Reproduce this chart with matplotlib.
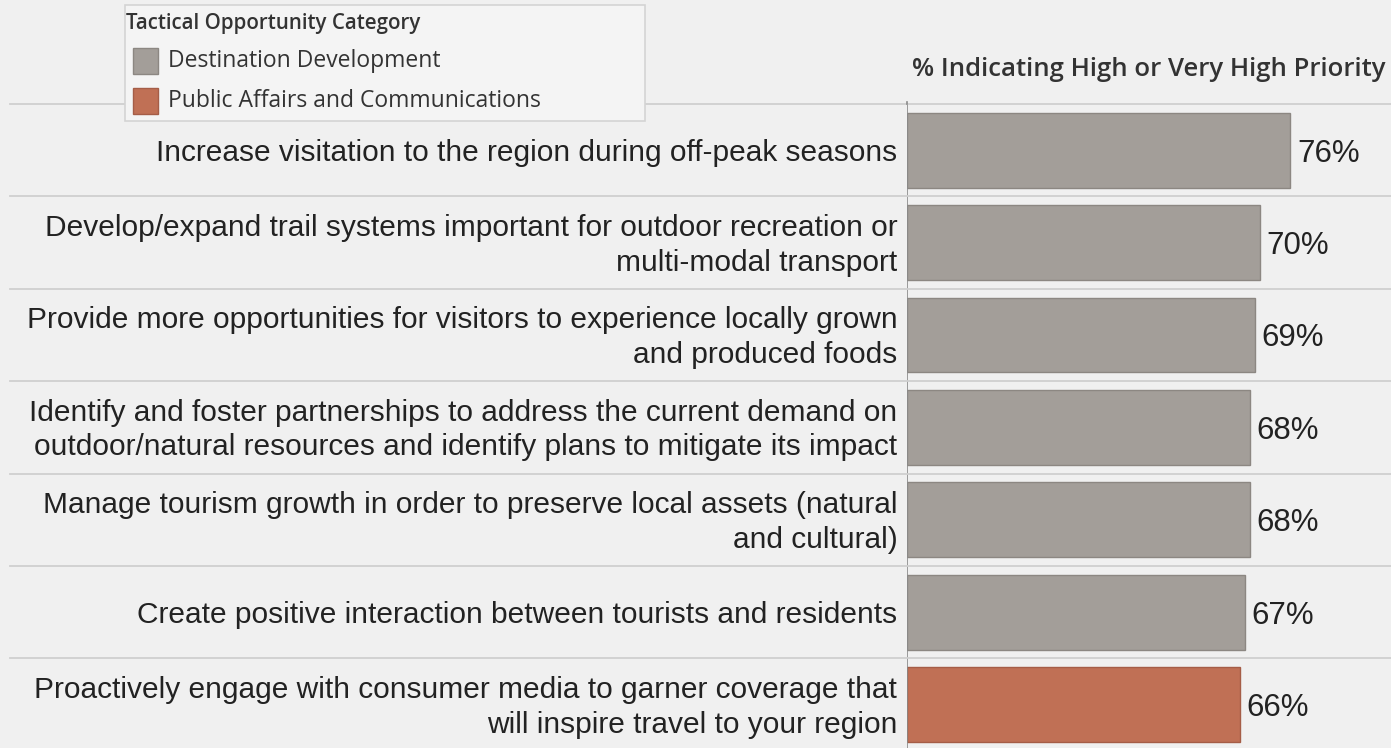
import matplotlib
matplotlib.use("Agg")
import matplotlib.pyplot as plt
from matplotlib.patches import Rectangle
from matplotlib.lines import Line2D
import matplotlib.transforms as mtransforms

categories = [
    "Increase visitation to the region during off-peak seasons",
    "Develop/expand trail systems important for outdoor recreation or\nmulti-modal transport",
    "Provide more opportunities for visitors to experience locally grown\nand produced foods",
    "Identify and foster partnerships to address the current demand on\noutdoor/natural resources and identify plans to mitigate its impact",
    "Manage tourism growth in order to preserve local assets (natural\nand cultural)",
    "Create positive interaction between tourists and residents",
    "Proactively engage with consumer media to garner coverage that\nwill inspire travel to your region",
]
values = [76, 70, 69, 68, 68, 67, 66]
groups = ["Destination Development"] * 6 + ["Public Affairs and Communications"]
legend_title = "Tactical Opportunity Category"
header = "% Indicating High or Very High Priority"

colors = {"Destination Development": "#a39e99",
          "Public Affairs and Communications": "#c07055"}
edges = {"Destination Development": "#8c8782",
         "Public Affairs and Communications": "#a55d47"}

W, H = 1391, 748
fig = plt.figure(figsize=(W / 100, H / 100), dpi=100)
fig.patch.set_facecolor("#f0f0f0")

def fx(x):
    return x / W

def fy(y):
    return 1 - y / H

ax_left, ax_top, ax_bottom = 907, 104, 748
ax = fig.add_axes([fx(ax_left), fy(ax_bottom), fx(W - ax_left), (ax_bottom - ax_top) / H])
ax.set_facecolor("#f0f0f0")
row_h = 92.4
n = len(values)
ax.set_xlim(0, (W - ax_left) / 5.04)
ax.set_ylim(-0.5 + (ax_bottom - ax_top) / row_h, -0.5)
for s in ax.spines.values():
    s.set_visible(False)
ax.set_xticks([])
ax.set_yticks([])

ypos = list(range(n))
ax.barh(ypos, values, height=0.81,
        color=[colors[g] for g in groups],
        edgecolor=[edges[g] for g in groups], linewidth=1.0, zorder=3)

for y, v in zip(ypos, values):
    ax.annotate(f"{v}%", (v, y), xytext=(5, -2.5), textcoords="offset points",
                ha="left", va="center", fontsize=22.5, family="Liberation Sans",
                color="#222222")

for y, lab in zip(ypos, categories):
    ax.annotate(lab, (0, y), xytext=(-7, -2), textcoords="offset points",
                ha="right", va="center", ma="right", fontsize=21.5,
                family="Liberation Sans", color="#222222", linespacing=1.3,
                annotation_clip=False)

# row separators spanning the full figure width
blend = mtransforms.blended_transform_factory(fig.transFigure, ax.transData)
for k in range(n + 1):
    yb = k - 0.5
    line = Line2D([fx(10), 1.0], [yb, yb], transform=blend, color="#cfcfcf",
                  linewidth=1.3, zorder=1)
    fig.add_artist(line)

# zero line
ax.axvline(0, color="#8a8a8a", linewidth=1.2, zorder=4)
fig.add_artist(Line2D([fx(ax_left), fx(ax_left)], [fy(ax_top - 2), fy(ax_top)],
                      transform=fig.transFigure, color="#8a8a8a", linewidth=1.2))

# header
fig.text(fx(1386), fy(70), header, ha="right", va="center", fontsize=18.5,
         family="Open Sans", fontweight="semibold", color="#333333")

# legend
box = Rectangle((fx(125), fy(121)), fx(645 - 125), (121 - 5) / H,
                transform=fig.transFigure, facecolor="#f4f4f4",
                edgecolor="#d4d4d4", linewidth=1.2, zorder=5)
fig.add_artist(box)
fig.text(fx(126), fy(24), legend_title, ha="left", va="center", fontsize=14.8,
         family="Open Sans", fontweight="semibold", color="#333333", zorder=6)
for i, g in enumerate(["Destination Development", "Public Affairs and Communications"]):
    ycen = 61 + i * 40
    sq = Rectangle((fx(133), fy(ycen + 13)), fx(25), 26 / H, transform=fig.transFigure,
                   facecolor=colors[g], edgecolor=edges[g], linewidth=1.0, zorder=6)
    fig.add_artist(sq)
    fig.text(fx(168), fy(ycen), g, ha="left", va="center", fontsize=16.5,
             family="Open Sans", color="#333333", zorder=6)

fig.savefig("out.png", dpi=100, facecolor=fig.get_facecolor())
